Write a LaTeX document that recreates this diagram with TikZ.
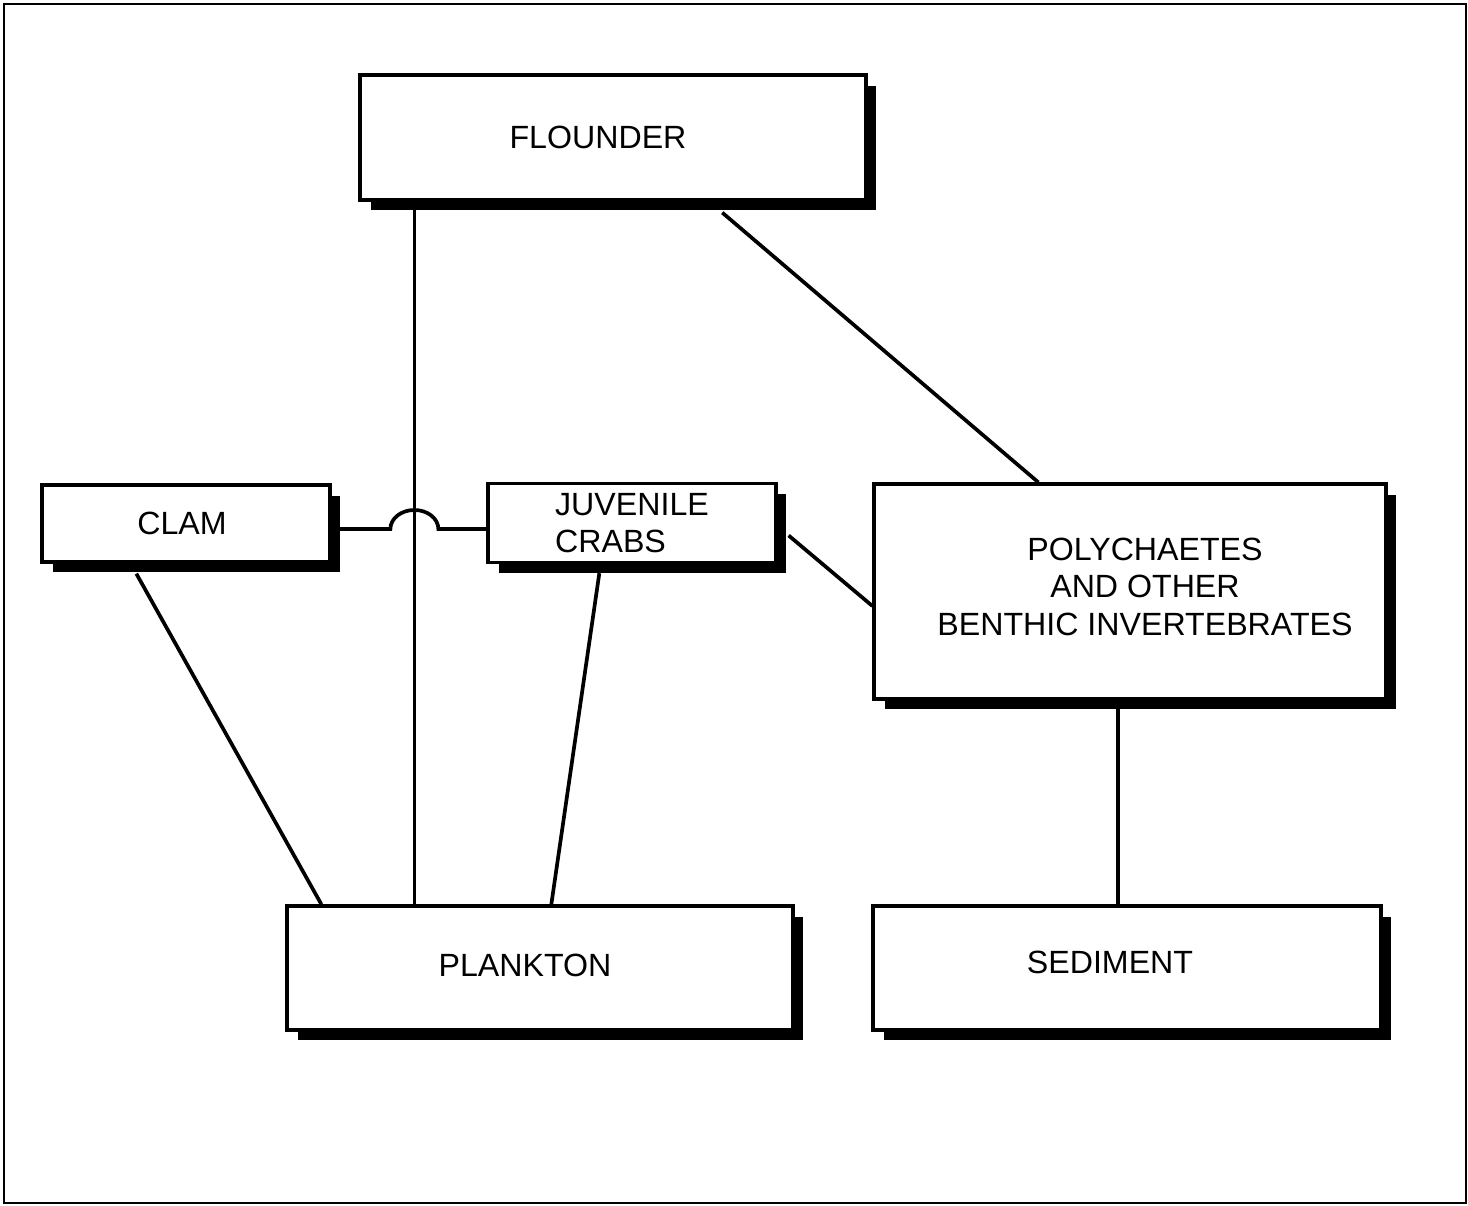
\documentclass[tikz,border=0pt]{standalone}
\usepackage{fontspec}
\setmainfont{Liberation Sans}
\usetikzlibrary{shadows}

\begin{document}
\begin{tikzpicture}[x=0.02cm, y=0.02cm, line width=2.1pt,
  box/.style={draw, fill=white, inner sep=0pt, line width=1.9pt,
    font=\fontsize{18.3}{21.3}\selectfont, align=center,
    general shadow={fill=black, shadow xshift=0.21cm, shadow yshift=-0.21cm}}]
  \useasboundingbox (0,0) rectangle (1468,1205);
  \draw [line width=1.6pt] (4,2) rectangle (1466,1201);
  \node [box, minimum width=10.12cm, minimum height=2.5cm] (flounder) at (613,1067.5) {FLOUNDER\hspace*{0.6cm}};
  \node [box, minimum width=5.76cm, minimum height=1.54cm] (clam) at (186,681.5) {CLAM\hspace*{0.16cm}};
  \node [box, minimum width=5.76cm, minimum height=1.58cm, align=left] (crabs) at (632,682) {JUVENILE\\CRABS};
  \node [box, minimum width=10.24cm, minimum height=4.3cm] (poly) at (1130,613.5) {\hspace*{0.6cm}POLYCHAETES\\\hspace*{0.6cm}AND OTHER\\\hspace*{0.6cm}BENTHIC INVERTEBRATES\rule[-0.2cm]{0pt}{0pt}};
  \node [box, minimum width=10.12cm, minimum height=2.48cm] (plankton) at (540,237) {PLANKTON\hspace*{0.6cm}\rule[-0.12cm]{0pt}{0pt}};
  \node [box, minimum width=10.16cm, minimum height=2.48cm] (sediment) at (1127,237) {SEDIMENT\hspace*{0.68cm}\rule[-0.24cm]{0pt}{0pt}};

  \coordinate (vline) at ([xshift=1.12cm]flounder.south west);
  \coordinate (hline) at ([yshift=-0.11cm]clam.east);
  \coordinate (hop) at (vline |- hline);
  \coordinate (pdrop) at ([xshift=-0.24cm]poly.south);
  \draw (vline) -- (vline |- plankton.north);
  \draw (hline) -- ([xshift=-0.48cm]hop)
    arc[start angle=180, end angle=0, x radius=0.48cm, y radius=0.38cm]
    -- (hop -| crabs.west);
  \draw ([xshift=7.28cm,yshift=-0.22cm]flounder.south west) -- ([xshift=3.32cm]poly.north west);
  \draw ([xshift=1.92cm,yshift=-0.2cm]clam.south west) -- ([xshift=0.72cm]plankton.north west);
  \draw ([xshift=2.26cm,yshift=-0.18cm]crabs.south west) -- ([xshift=5.32cm]plankton.north west);
  \draw ([xshift=0.22cm,yshift=-0.25cm]crabs.east) -- ([yshift=-0.29cm]poly.west);
  \draw (pdrop) -- (pdrop |- sediment.north);
\end{tikzpicture}
\end{document}
